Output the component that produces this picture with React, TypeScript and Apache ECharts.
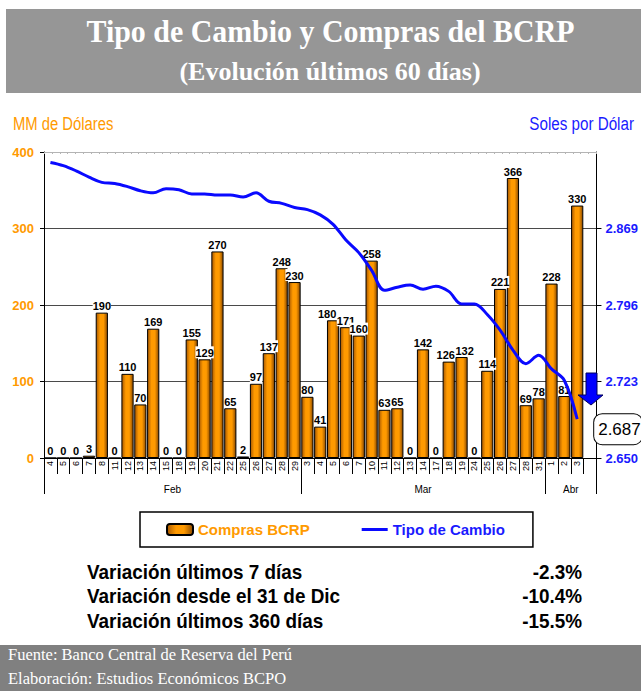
import React, { useEffect, useRef } from "react";
import * as echarts from "echarts";

// ---------- data ----------
const febDays = ["4", "5", "6", "7", "8", "11", "12", "13", "14", "15", "18", "19", "20", "21", "22", "25", "26", "27", "28", "29"];
const marDays = ["3", "4", "5", "6", "7", "10", "11", "12", "13", "14", "17", "18", "19", "24", "25", "26", "27", "28", "31"];
const abrDays = ["1", "2", "3"];
const months = ["Feb", "Mar", "Abr"];
const categories = [...febDays, ...marDays, ...abrDays, ""];

const comprasFeb = [0, 0, 0, 3, 190, 0, 110, 70, 169, 0, 0, 155, 129, 270, 65, 2, 97, 137, 248, 230];
const comprasMar = [80, 41, 180, 171, 160, 258, 63, 65, 0, 142, 0, 126, 132, 0, 114, 221, 366, 69, 78];
const comprasAbr = [228, 81, 330];
const compras = [...comprasFeb, ...comprasMar, ...comprasAbr];

const tipoCambio = [
  2.932, 2.929, 2.924, 2.918, 2.913, 2.912, 2.909, 2.905, 2.903, 2.907,
  2.906, 2.902, 2.902, 2.901, 2.901, 2.899, 2.903, 2.895, 2.893, 2.889,
  2.887, 2.882, 2.873, 2.858, 2.846, 2.829, 2.810, 2.813, 2.815, 2.811,
  2.814, 2.809, 2.797, 2.797, 2.787, 2.772, 2.753, 2.740, 2.748, 2.735,
  2.724, 2.687,
];

const leftTicks = [0, 100, 200, 300, 400];
const rightTicks = [2.65, 2.723, 2.796, 2.869];
const rightMax = 2.942;

const variacionLabels = ["Variación últimos 7 días", "Variación desde el 31 de Dic", "Variación últimos 360 días"];
const variacionValues = ["-2.3%", "-10.4%", "-15.5%"];

// ---------- styles ----------
const SANS = '"Liberation Sans", Arial, sans-serif';
const SERIF = '"Liberation Serif", "Times New Roman", serif';
const ORANGE = "#ff9a00";
const BLUE = "#1a1aff";

// small horizontal nudges for bar labels that would collide (by category index)
const labelNudge: Record<number, number[]> = { 22: [-6, 0], 31: [-3, 0], 32: [3, 0] };

export default function App() {
  const ref = useRef<HTMLDivElement>(null);

  useEffect(() => {
    if (!ref.current) return;
    const chart = echarts.init(ref.current, null, { renderer: "svg" });

    const monthStarts: number[] = [];
    let acc = 0;
    [febDays, marDays, abrDays].forEach((d) => {
      monthStarts.push(acc);
      acc += d.length;
    });
    const monthLabelAt: Record<number, string> = {};
    months.forEach((m, k) => {
      const s = monthStarts[k];
      const e = k < months.length - 1 ? monthStarts[k + 1] : categories.length;
      const sum = s + e;
      if (sum % 2 === 0) monthLabelAt[sum / 2] = `{shift|${m}}`;
      else monthLabelAt[(sum - 1) / 2] = `{c|${m}}`;
    });

    const barGradient = new echarts.graphic.LinearGradient(0, 0, 1, 0, [
      { offset: 0, color: "#a85800" },
      { offset: 0.35, color: "#ff9a00" },
      { offset: 0.65, color: "#ff9a00" },
      { offset: 1, color: "#8c4a00" },
    ]);

    const barData = compras.map((v, i) =>
      labelNudge[i] ? { value: v, label: { offset: labelNudge[i] } } : v
    );

    const varY = [571.7, 595.7, 620.7];

    const option: any = {
      animation: false,
      backgroundColor: "#ffffff",
      grid: { left: 44, right: 41, top: 152, bottom: 233, containLabel: false },
      legend: {
        left: 140,
        top: 512,
        itemGap: 52,
        itemWidth: 26,
        itemHeight: 11,
        padding: [10, 28, 10, 26],
        borderColor: "#000",
        borderWidth: 1.5,
        backgroundColor: "#fff",
        textStyle: { fontSize: 15, fontWeight: "bold", fontFamily: SANS },
        data: [
          { name: "Compras BCRP", textStyle: { color: ORANGE } },
          {
            name: "Tipo de Cambio",
            icon: "path://M0 0H26V3H0Z",
            itemStyle: { color: "#0a0aff" },
            textStyle: { color: BLUE },
          },
        ],
      },
      xAxis: [
        {
          type: "category",
          data: categories,
          position: "bottom",
          axisLine: { show: true, lineStyle: { color: "#000", width: 1 } },
          axisTick: { show: true, interval: 0, length: 16, lineStyle: { color: "#000" } },
          axisLabel: { interval: 0, rotate: 90, fontSize: 9, color: "#000", margin: 3, fontFamily: SANS },
          splitLine: { show: false },
        },
        {
          type: "category",
          data: categories,
          position: "bottom",
          axisLine: { show: false },
          axisTick: {
            show: true,
            interval: (i: number) => monthStarts.includes(i),
            length: 36,
            lineStyle: { color: "#000" },
          },
          axisLabel: {
            interval: (i: number) => monthLabelAt[i] !== undefined,
            formatter: (_v: string, i: number) => monthLabelAt[i] || "",
            margin: 26,
            color: "#000",
            fontSize: 10,
            fontFamily: SANS,
            rich: {
              shift: { fontSize: 10, color: "#000", fontFamily: SANS, padding: [0, 12.9, 0, 0] },
              c: { fontSize: 10, color: "#000", fontFamily: SANS },
            },
          },
          splitLine: { show: false },
        },
        {
          type: "value",
          position: "top",
          min: 0,
          max: 70,
          interval: 1,
          axisLine: { show: true, lineStyle: { color: "#b4b4b4" } },
          axisTick: { show: true, inside: true, length: 2, lineStyle: { color: "#b4b4b4" } },
          axisLabel: { show: false },
          splitLine: { show: false },
        },
      ],
      yAxis: [
        {
          type: "value",
          min: leftTicks[0],
          max: leftTicks[leftTicks.length - 1],
          interval: leftTicks[1] - leftTicks[0],
          position: "left",
          axisLine: { show: true, lineStyle: { color: "#000" } },
          axisTick: { show: true, length: 4, lineStyle: { color: "#000" } },
          axisLabel: { color: ORANGE, fontWeight: "bold", fontSize: 13, margin: 10, fontFamily: SANS },
          splitLine: {
            show: true,
            lineStyle: { color: ["#4a4a4a", "#4a4a4a", "#4a4a4a", "#4a4a4a", "#c0c0c0"], width: 1 },
          },
        },
        {
          type: "value",
          min: rightTicks[0],
          max: rightMax,
          position: "right",
          axisLine: { show: true, lineStyle: { color: "#000" } },
          axisTick: { show: true, length: 5, customValues: rightTicks, lineStyle: { color: "#000" } },
          axisLabel: {
            customValues: rightTicks,
            formatter: (v: number) => v.toFixed(3),
            color: BLUE,
            fontWeight: "bold",
            fontSize: 13,
            margin: 9,
            fontFamily: SANS,
          },
          splitLine: { show: false },
        },
      ],
      series: [
        {
          type: "bar",
          name: "Compras BCRP",
          data: barData,
          xAxisIndex: 0,
          yAxisIndex: 0,
          barCategoryGap: "5%",
          itemStyle: { color: barGradient, borderColor: "#000", borderWidth: 1 },
          label: {
            show: true,
            position: "top",
            distance: 1,
            color: "#000",
            fontWeight: "bold",
            fontSize: 11,
            fontFamily: SANS,
            backgroundColor: "#fff",
            padding: [1, 0, 0, 0],
          },
          z: 2,
        },
        {
          type: "line",
          name: "Tipo de Cambio",
          data: tipoCambio,
          xAxisIndex: 0,
          yAxisIndex: 1,
          smooth: 0.35,
          symbol: "none",
          lineStyle: { color: "#0a0aff", width: 3 },
          itemStyle: { color: "#0a0aff" },
          z: 3,
          endLabel: {
            show: true,
            formatter: (p: any) => Number(p.value).toFixed(3),
            distance: 17,
            offset: [0, 10],
            color: "#000",
            fontSize: 17,
            fontFamily: SANS,
            backgroundColor: "#fff",
            borderColor: "#000",
            borderWidth: 1,
            borderRadius: 8,
            padding: [7, 1, 6, 4],
          },
        },
      ],
      graphic: [
        { type: "rect", z: -1, shape: { x: 6, y: 9, width: 635, height: 84 }, style: { fill: "#969696" } },
        {
          type: "text",
          x: 330.5,
          y: 31.5,
          scaleX: 0.935,
          style: {
            text: "Tipo de Cambio y Compras del BCRP",
            fill: "#fff",
            fontSize: 32,
            fontWeight: "bold",
            fontFamily: SERIF,
            align: "center",
            verticalAlign: "middle",
          },
        },
        {
          type: "text",
          x: 330,
          y: 71.5,
          scaleX: 1.04,
          style: {
            text: "(Evolución últimos 60 días)",
            fill: "#fff",
            fontSize: 25,
            fontWeight: "bold",
            fontFamily: SERIF,
            align: "center",
            verticalAlign: "middle",
          },
        },
        {
          type: "text",
          x: 13,
          y: 123.5,
          scaleX: 0.78,
          style: { text: "MM de Dólares", fill: ORANGE, fontSize: 19, fontFamily: SANS, align: "left", verticalAlign: "middle" },
        },
        {
          type: "text",
          x: 634,
          y: 123,
          scaleX: 0.8,
          style: { text: "Soles por Dólar", fill: BLUE, fontSize: 19, fontFamily: SANS, align: "right", verticalAlign: "middle" },
        },
        {
          type: "polygon",
          z: 10,
          shape: {
            points: [
              [586, 373],
              [597, 373],
              [597, 395],
              [603, 395],
              [591, 405],
              [578, 395],
              [586, 395],
            ],
          },
          style: { fill: "#0000ff", stroke: "#00005a", lineWidth: 1 },
        },
        ...variacionLabels.map((t, i) => ({
          type: "text",
          x: 87,
          y: varY[i],
          scaleX: 0.9,
          style: { text: t, fill: "#000", fontSize: 21, fontWeight: "bold", fontFamily: SANS, align: "left", verticalAlign: "middle" },
        })),
        ...variacionValues.map((t, i) => ({
          type: "text",
          x: 582,
          y: varY[i],
          scaleX: 0.9,
          style: { text: t, fill: "#000", fontSize: 21, fontWeight: "bold", fontFamily: SANS, align: "right", verticalAlign: "middle" },
        })),
        { type: "rect", z: -1, shape: { x: 0, y: 645, width: 641, height: 46 }, style: { fill: "#808080" } },
        {
          type: "text",
          x: 8,
          y: 654.5,
          style: { text: "Fuente: Banco Central de Reserva del Perú", fill: "#fff", fontSize: 16.5, fontFamily: SERIF, align: "left", verticalAlign: "middle" },
        },
        {
          type: "text",
          x: 8,
          y: 678.7,
          style: { text: "Elaboración: Estudios Económicos BCPO", fill: "#fff", fontSize: 16.5, fontFamily: SERIF, align: "left", verticalAlign: "middle" },
        },
      ],
    };

    chart.setOption(option);
    return () => chart.dispose();
  }, []);

  return (
    <div
      ref={ref}
      style={{ position: "absolute", left: 0, top: 0, width: 641, height: 691, background: "#fff" }}
    />
  );
}
